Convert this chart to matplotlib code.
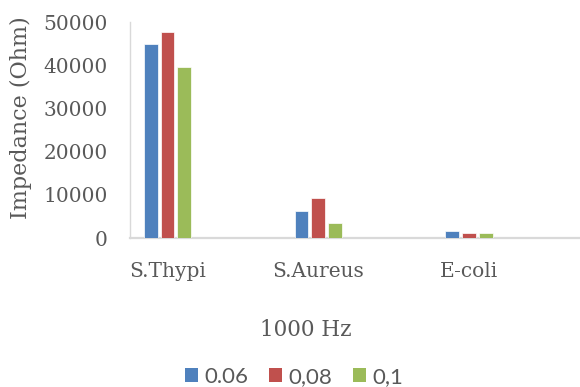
import matplotlib
matplotlib.use("Agg")
import matplotlib.pyplot as plt
from matplotlib.patches import Patch
import numpy as np

plt.rcParams["font.family"] = "DejaVu Serif"

TEXT = "#595959"
AXIS = "#D9D9D9"
COLORS = ["#4F81BD", "#C0504D", "#9BBB59"]

categories = ["S.Thypi", "S.Aureus", "E-coli"]
series_names = ["0.06", "0,08", "0,1"]
z_thypi = [45000, 47700, 39600]
z_aureus = [6300, 9300, 3400]
z_ecoli = [1600, 1150, 1100]
# rows are categories in the lists above; regroup per series
values = np.array([z_thypi, z_aureus, z_ecoli]).T

fig = plt.figure(figsize=(5.8, 3.87), dpi=100)
ax = fig.add_axes([130 / 580, 149 / 387, 450 / 580, 216 / 387])

x = np.arange(len(categories))
step = 0.111
width = 0.091
for j, name in enumerate(series_names):
    ax.bar(x + (j - 1) * step, values[j], width=width, color=COLORS[j],
           edgecolor="white", linewidth=0.5, zorder=3)

ax.set_xlim(-0.249, 2.736)
ax.set_ylim(0, 50000)
ax.set_yticks(np.arange(0, 50001, 10000))
ax.set_xticks(x)
ax.set_xticklabels(categories)
ax.tick_params(length=0, labelsize=14.5, labelcolor=TEXT)
ax.tick_params(axis="y", pad=16)
ax.tick_params(axis="x", pad=17)

for s in ["top", "right"]:
    ax.spines[s].set_visible(False)
ax.spines["left"].set_color(AXIS)
ax.spines["left"].set_linewidth(1.0)
ax.spines["bottom"].set_color(AXIS)
ax.spines["bottom"].set_linewidth(1.6)

ax.set_ylabel("Impedance (Ohm)", fontsize=16, color=TEXT, va="center")
ax.yaxis.set_label_coords(-0.242, 0.556)
ax.set_xlabel("1000 Hz", fontsize=15.5, color=TEXT, va="center")
ax.xaxis.set_label_coords(0.391, -0.426)

handles = [Patch(facecolor=c, edgecolor="none") for c in COLORS]
fig.legend(handles=handles, labels=series_names, loc="center",
           bbox_to_anchor=(0.507, 0.026), ncol=3, frameon=False,
           prop={"family": "Lato", "size": 16}, labelcolor=TEXT,
           handlelength=0.6, handleheight=0.6, handletextpad=0.3,
           columnspacing=0.9, borderpad=0)

fig.savefig("out.png", dpi=100)
